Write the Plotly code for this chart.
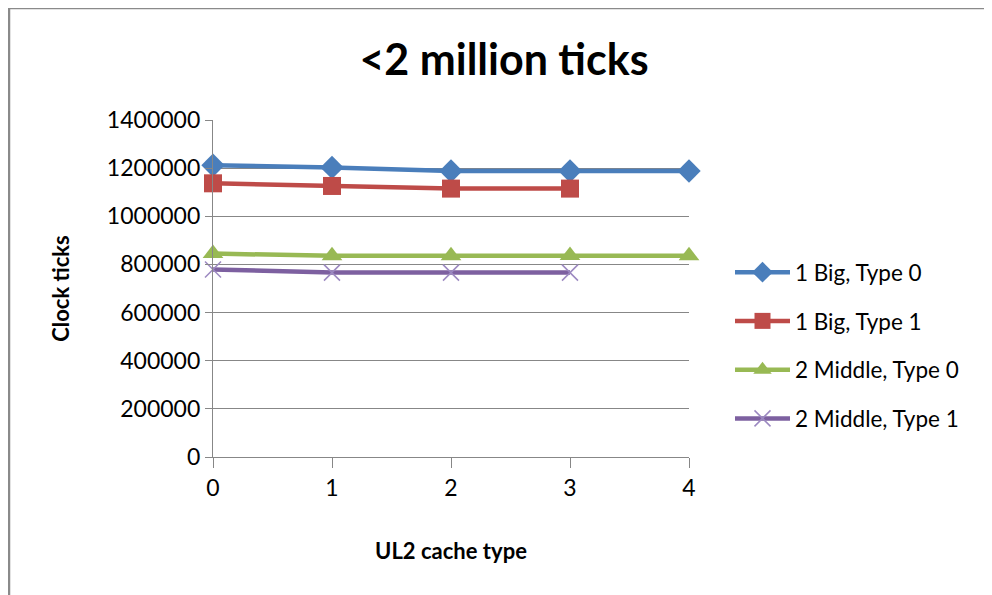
import plotly.graph_objects as go

x_cats = [0, 1, 2, 3, 4]
big_type0 = [1212000, 1203000, 1188000, 1188000, 1188000]
big_type1 = [1137000, 1126000, 1115000, 1115000]
mid_type0 = [845000, 836000, 836000, 837000, 836000]
mid_type1 = [779000, 766000, 766000, 766000]

series_names = ["1 Big, Type 0", "1 Big, Type 1", "2 Middle, Type 0", "2 Middle, Type 1"]
series_vals = [big_type0, big_type1, mid_type0, mid_type1]
colors = ["#4a7ebb", "#be4b48", "#98b954", "#7d60a0"]
symbols = ["diamond", "square", "triangle-up", "x-thin"]
msizes = [18, 18, 18, 16]

FONT = "Lato"
fig = go.Figure()
for i, (name, vals) in enumerate(zip(series_names, series_vals)):
    mk = dict(symbol=symbols[i], size=msizes[i], color=colors[i])
    if symbols[i] == "x-thin":
        mk["line"] = dict(color="#9b88c0", width=1.5)
    fig.add_trace(go.Scatter(
        x=x_cats[:len(vals)], y=vals, name=name, mode="lines+markers",
        line=dict(color=colors[i], width=4.5), marker=mk,
        legendgroup=name, cliponaxis=False,
    ))

# page body has an 8px margin; target pixel positions below are in screenshot coords
OFF = 8
W, H = 984, 587
L, R, T, B = 213 - OFF, 689 - OFF, 120 - OFF, 457 - OFF
fig.update_layout(
    width=W, height=H,
    margin=dict(l=L, r=W - R, t=T, b=H - B),
    paper_bgcolor="white", plot_bgcolor="white",
    font=dict(family=FONT, color="#000000", size=23),
    title=dict(text="<b><2 million ticks</b>", x=(504 - OFF) / W, xref="container", xanchor="center",
               y=1 - (60 - OFF) / H, yref="container", yanchor="middle",
               font=dict(size=43, family=FONT)),
    showlegend=True,
    legend=dict(x=(730 - OFF - L) / (R - L), xanchor="left", y=(B - (251 - OFF)) / (B - T), yanchor="top",
                font=dict(size=22.5, family=FONT), tracegroupgap=16.5, itemwidth=55,
                bgcolor="rgba(0,0,0,0)"),
    xaxis=dict(range=[0, 4], tickmode="array", tickvals=x_cats, ticktext=[str(v) for v in x_cats],
               showgrid=False, zeroline=False, showline=True, linecolor="#878787", linewidth=1.3,
               ticks="outside", ticklen=10, tickcolor="#878787", tickwidth=1.3,
               title=dict(text="<b>UL2 cache type</b>", font=dict(size=22), standoff=43),
               tickfont=dict(size=23)),
    yaxis=dict(range=[0, 1400000], dtick=200000, tickformat="d",
               showgrid=True, gridcolor="#878787", gridwidth=1.3, zeroline=False,
               showline=True, linecolor="#878787", linewidth=1.3,
               ticks="outside", ticklen=7, tickcolor="#878787", tickwidth=1.3,
               title=dict(text="<b>Clock ticks</b>", font=dict(size=22), standoff=31),
               tickfont=dict(size=23)),
)
# outer chart border (left and top edges visible)
px = lambda v: (v - OFF - L) / (R - L)
py = lambda v: (B - (v - OFF)) / (B - T)
fig.add_shape(type="line", xref="paper", yref="paper", x0=px(9), x1=px(9), y0=py(8), y1=py(600),
              line=dict(color="#8a8a8a", width=2.5))
fig.add_shape(type="line", xref="paper", yref="paper", x0=px(8), x1=px(1000), y0=py(8), y1=py(8),
              line=dict(color="#8a8a8a", width=2.5))

fig.write_html("out.html")
